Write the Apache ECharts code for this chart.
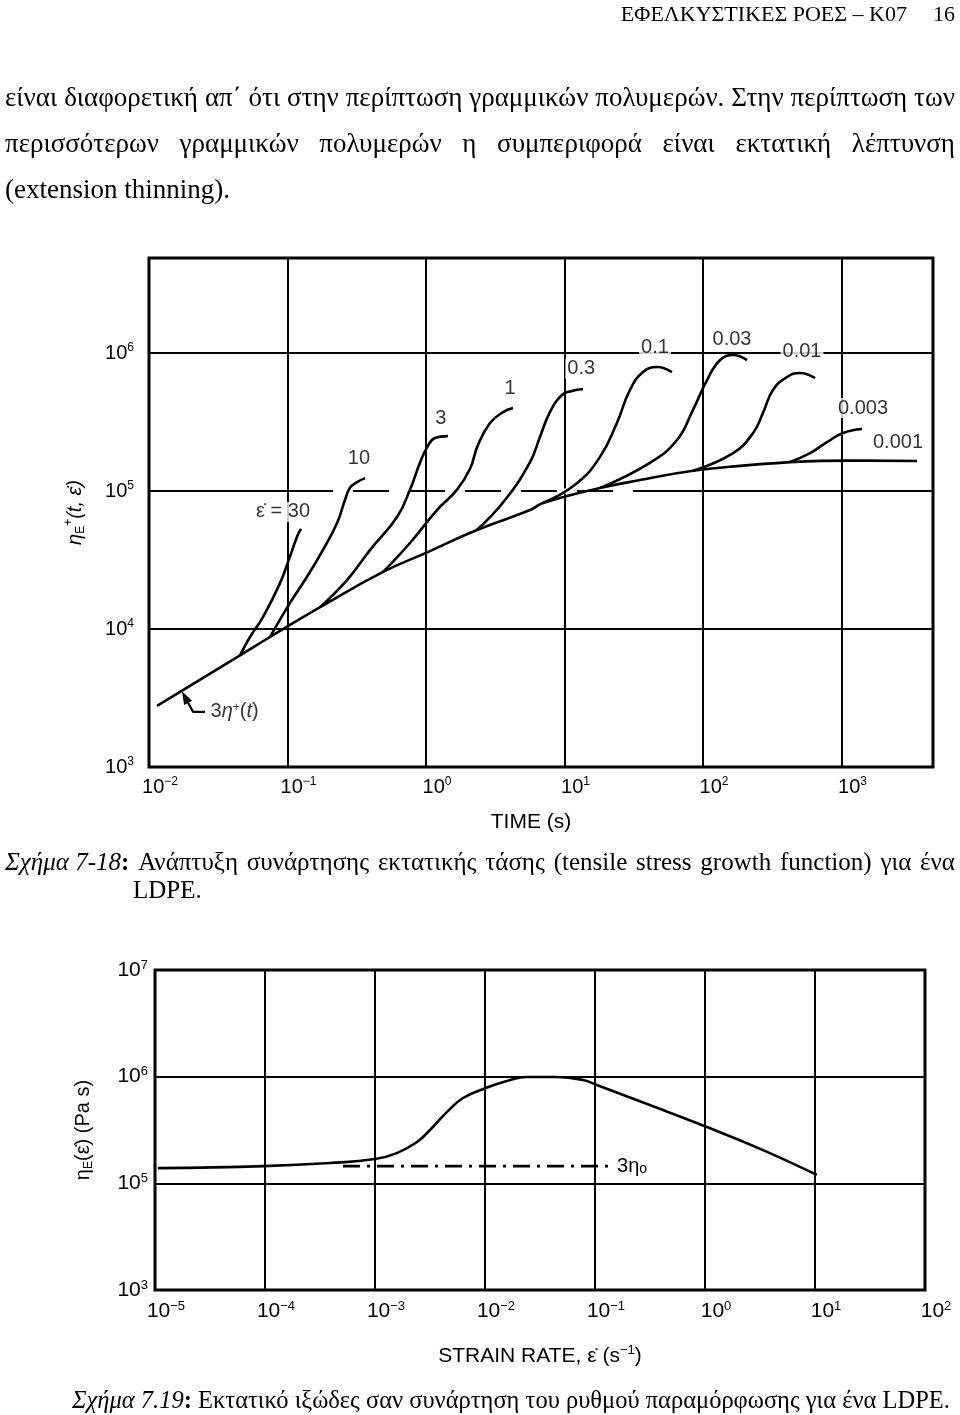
<!DOCTYPE html>
<html><head><meta charset="utf-8">
<script src="https://cdn.jsdelivr.net/npm/echarts@6/dist/echarts.min.js"></script>
<style>
html,body{margin:0;padding:0;background:#fff;}
body{width:960px;height:1415px;position:relative;overflow:hidden;font-family:"Liberation Serif","Times New Roman",serif;color:#000;}
#chart{position:absolute;left:0;top:0;width:960px;height:1415px;}
.ln{position:absolute;white-space:nowrap;display:flex;justify-content:space-between;}
.ln span{white-space:nowrap;}
.t{position:absolute;white-space:nowrap;}
</style></head><body>
<div id="chart"></div>
<div class="t" style="right:5px;top:1px;font-size:22px;line-height:26px;">ΕΦΕΛΚΥΣΤΙΚΕΣ ΡΟΕΣ – Κ07<span style="display:inline-block;width:26px"></span>16</div>
<div class="ln body" style="left:5px;width:950px;top:81px;font-size:27px;line-height:32px;" data-text="είναι διαφορετική απ΄ ότι στην περίπτωση γραμμικών πολυμερών. Στην περίπτωση των"></div>
<div class="ln body" style="left:5px;width:950px;top:127px;font-size:27px;line-height:32px;" data-text="περισσότερων γραμμικών πολυμερών η συμπεριφορά είναι εκτατική λέπτυνση"></div>
<div class="t" style="left:5px;top:173px;font-size:27px;line-height:32px;">(extension thinning).</div>
<div class="ln body" id="cap1" style="left:5px;width:950px;top:847px;font-size:25px;line-height:30px;" data-text="Ανάπτυξη συνάρτησης εκτατικής τάσης (tensile stress growth function) για ένα"></div>
<div class="t" style="left:133px;top:875px;font-size:25px;line-height:30px;">LDPE.</div>
<div class="ln" id="cap2" style="left:72px;width:878px;top:1385px;font-size:24.5px;line-height:30px;"></div>
<script>
// ---------- Figure 7-18 : tensile stress growth function (t [s], eta [Pa s]) ----------
const envelope3EtaPlus = [[0.01143,2770],[0.0454,6440],[0.0748,8750],[0.172,14400],[0.490,25900],[1.03,36100],[2.33,52100],[5.64,72800],[7.00,81800],[18.0,105000],[35.1,120000],[84.7,140000],[185,152000],[425,162000]];
const rate30   = [[0.0454,6440],[0.0536,8750],[0.0665,12200],[0.0883,21500],[0.104,33300],[0.117,46400],[0.125,53100]];
const rate10   = [[0.0748,8750],[0.104,15400],[0.138,23800],[0.180,37300],[0.228,58600],[0.260,86100],[0.282,105000],[0.318,116000],[0.363,124000]];
const rate3    = [[0.172,14400],[0.269,22600],[0.394,37300],[0.618,64800],[0.766,102000],[0.905,160000],[1.02,208000],[1.16,242000],[1.44,250000]];
const rate1    = [[0.490,25900],[0.766,42000],[1.20,72800],[1.67,102000],[2.08,145000],[2.37,215000],[2.90,311000],[3.60,373000],[4.25,399000]];
const rate03   = [[2.33,52100],[3.72,86100],[5.64,162000],[6.65,246000],[7.85,373000],[9.59,496000],[11.3,530000],[13.6,548000]];
const rate01   = [[7.00,81800],[12.3,114000],[18.0,176000],[23.9,311000],[29.7,540000],[36.9,728000],[46.6,792000],[59.7,728000]];
const rate003  = [[18.0,105000],[41.4,160000],[64.9,234000],[84.7,387000],[107,637000],[133,889000],[165,968000],[208,889000]];
const rate001  = [[84.7,140000],[165,188000],[230,263000],[271,367000],[320,540000],[404,670000],[501,716000],[644,659000]];
const rate0003 = [[425,162000],[593,188000],[786,226000],[1025,263000],[1405,281000]];
const rate0001 = [[425,162000],[1150,166000],[3510,165000]];
const rateCurves = [rate30, rate10, rate3, rate1, rate03, rate01, rate003, rate001, rate0003, rate0001];
const rateLabelText = ['ε̇ = 30','10','3','1','0.3','0.1','0.03','0.01','0.003','0.001'];
const rateLabelAt   = [[0.0929,70500],[0.328,171000],[1.28,338000],[4.04,557000],[13.2,766000],[45.0,1100000],[162,1260000],[519,1020000],[1430,399000],[2560,226000]];
const arrow3EtaPlus = [[0.0182,3210],[0.0208,2510],[0.0254,2510]];
const dashedPartOf1e5Line = [[0.213,100000],[33.3,100000]];
const timeAxisRange = [0.01, 4580];
const eta1AxisRange = [1000, 4.88e6];

// ---------- Figure 7.19 : extensional viscosity vs strain rate ----------
const extViscosity = [[1.06e-5,139000],[9.8e-5,145000],[3.90e-4,155000],[1.0e-3,169000],[1.58e-3,192000],[2.41e-3,244000],[3.16e-3,316000],[4.52e-3,467000],[6.31e-3,631000],[0.0102,783000],[0.0158,911000],[0.0241,993000],[0.0452,993000],[0.0778,931000],[0.104,836000],[0.415,487000],[1.04,337000],[3.37,205000],[10.4,120000]];
const threeEta0 = [[5.12e-4,145000],[0.143,145000]];
const rateAxisRange = [1e-5, 100];
const eta2AxisRange = [1e4, 1e7];
const eta2TickExponents = ['3','5','6','7']; // exponents printed at 1e4,1e5,1e6,1e7 (as in the figure)

// ---------- page text ----------
document.querySelectorAll('.ln.body').forEach(el => {
  const words = el.getAttribute('data-text').split(' ');
  let html = '';
  if (el.id === 'cap1') html += '<span><i>Σχήμα 7-18</i><b>:</b></span>';
  words.forEach(w => html += '<span>' + w + '</span>');
  el.innerHTML = html;
});
(function () {
  const el = document.getElementById('cap2');
  let html = '<span><i>Σχήμα 7.19</i><b>:</b></span>';
  'Εκτατικό ιξώδες σαν συνάρτηση του ρυθμού παραμόρφωσης για ένα LDPE.'.split(' ').forEach(w => html += '<span>' + w + '</span>');
  el.innerHTML = html;
})();

const FONT = '"Liberation Sans", Arial, Helvetica, sans-serif';
function supRich(fs, shl) {
  return {
    b: {fontSize: fs, lineHeight: fs + 2, fontFamily: FONT, color: '#000'},
    s: {fontSize: Math.round(fs * 0.62), lineHeight: shl, verticalAlign: 'top', fontFamily: FONT, color: '#000'}
  };
}
function powLabel(v, expMap, base) {
  const l = Math.log10(v), e = Math.round(l);
  if (Math.abs(l - e) > 1e-6) return '';
  let s = expMap ? expMap[e - base] : String(e);
  s = String(s).replace('-', '−');
  return '{b|10}{s|' + s + '}';
}
const black = '#000';
const gridLine = {show: true, lineStyle: {color: black, width: 2}};
const SMOOTH = 0.45;

const series = [];
// white gaps that turn the middle of the 10^5 grid line into a dashed line
series.push({type: 'line', xAxisIndex: 0, yAxisIndex: 0, data: dashedPartOf1e5Line, showSymbol: false, symbol: 'none', silent: true,
  lineStyle: {color: '#fff', width: 5, type: [20, 36], dashOffset: 0}, z: 1});
series.push({type: 'line', xAxisIndex: 0, yAxisIndex: 0, data: envelope3EtaPlus, smooth: SMOOTH, showSymbol: false, symbol: 'none', lineStyle: {color: black, width: 2.6}, z: 3});
rateCurves.forEach(c => series.push({type: 'line', xAxisIndex: 0, yAxisIndex: 0, data: c, smooth: SMOOTH, showSymbol: false, symbol: 'none', lineStyle: {color: black, width: 2.6}, z: 3}));
series.push({type: 'line', xAxisIndex: 0, yAxisIndex: 0, smooth: false, symbol: 'circle', symbolSize: 0, showSymbol: true,
  lineStyle: {color: black, width: 2.2}, itemStyle: {color: black},
  data: arrow3EtaPlus.map((p, i) => i === 0 ? {value: p, symbol: 'triangle', symbolSize: [9, 13], symbolRotate: 28} : {value: p}), z: 4});
const annData = rateLabelText.map((t, i) => ({value: rateLabelAt[i], name: t}));
annData.push({value: arrow3EtaPlus[2], name: '3{i|η}{sup|+}({i|t})', label: {position: 'right', distance: 3, backgroundColor: 'transparent'}});
series.push({type: 'scatter', xAxisIndex: 0, yAxisIndex: 0, symbolSize: 1, itemStyle: {color: 'rgba(0,0,0,0)'},
  label: {show: true, position: 'inside', formatter: '{b}', color: black, fontFamily: FONT, fontSize: 20, backgroundColor: '#fff', padding: [0, 2],
    rich: {sup: {fontSize: 12, lineHeight: 8, verticalAlign: 'top', fontFamily: FONT, color: black},
           i: {fontSize: 20, fontStyle: 'italic', fontFamily: FONT, color: black}}},
  data: annData, z: 6});
series.push({type: 'line', xAxisIndex: 1, yAxisIndex: 1, data: extViscosity, smooth: SMOOTH, showSymbol: false, symbol: 'none', lineStyle: {color: black, width: 2.6}, z: 3});
series.push({type: 'line', xAxisIndex: 1, yAxisIndex: 1, data: threeEta0, showSymbol: false, symbol: 'none', lineStyle: {color: black, width: 2.6, type: [17, 7, 3, 7]}, z: 3,
  endLabel: {show: true, formatter: '3η{o|o}', distance: 5, color: black, fontFamily: FONT, fontSize: 20,
    rich: {o: {fontSize: 14, lineHeight: 6, verticalAlign: 'bottom', fontFamily: FONT, color: black}}}});

const option = {
  animation: false,
  textStyle: {fontFamily: FONT, color: black},
  grid: [
    {left: 149, top: 258, width: 784, height: 509, show: true, borderColor: black, borderWidth: 3, backgroundColor: 'transparent'},
    {left: 155, top: 970, width: 770, height: 320, show: true, borderColor: black, borderWidth: 3, backgroundColor: 'transparent'}
  ],
  xAxis: [
    {type: 'log', logBase: 10, gridIndex: 0, min: timeAxisRange[0], max: timeAxisRange[1],
      axisLine: {show: false}, axisTick: {show: false}, splitLine: gridLine,
      axisLabel: {formatter: v => powLabel(v), rich: supRich(20, 8), margin: 9, padding: [0, 0, 0, 22], showMaxLabel: false},
      name: 'TIME (s)', nameLocation: 'middle', nameGap: 45, nameTextStyle: {fontSize: 21, color: black, fontFamily: FONT, padding: [0, 20, 0, 0]}},
    {type: 'log', logBase: 10, gridIndex: 1, min: rateAxisRange[0], max: rateAxisRange[1],
      axisLine: {show: false}, axisTick: {show: false}, splitLine: gridLine,
      axisLabel: {formatter: v => powLabel(v), rich: supRich(21, 6), margin: 10, padding: [0, 0, 0, 22]},
      name: '{a|STRAIN RATE, ε̇ (s}{s|−1}{a|)}', nameLocation: 'middle', nameGap: 54,
      nameTextStyle: {fontSize: 21, color: black, fontFamily: FONT, rich: {a: {fontSize: 21, fontFamily: FONT, color: black, lineHeight: 24}, s: {fontSize: 13, lineHeight: 8, verticalAlign: 'top', fontFamily: FONT, color: black}}}}
  ],
  yAxis: [
    {type: 'log', logBase: 10, gridIndex: 0, min: eta1AxisRange[0], max: eta1AxisRange[1],
      axisLine: {show: false}, axisTick: {show: false}, splitLine: gridLine,
      axisLabel: {formatter: v => powLabel(v), rich: supRich(20, 8), margin: 15},
      name: '{a|η}{sub|E}{sup|+}{a|(t, ε̇)}', nameLocation: 'middle', nameRotate: 90, nameGap: 62,
      nameTextStyle: {color: black, rich: {a: {fontSize: 20, fontFamily: FONT, fontStyle: 'italic', color: black, lineHeight: 24}, sub: {fontSize: 12, lineHeight: 8, verticalAlign: 'bottom', fontFamily: FONT, color: black}, sup: {fontSize: 12, lineHeight: 8, verticalAlign: 'top', fontFamily: FONT, color: black}}}},
    {type: 'log', logBase: 10, gridIndex: 1, min: eta2AxisRange[0], max: eta2AxisRange[1],
      axisLine: {show: false}, axisTick: {show: false}, splitLine: gridLine,
      axisLabel: {formatter: v => powLabel(v, eta2TickExponents, 4), rich: supRich(21, 6), margin: 7},
      name: '{a|η}{sub|E}{a|(ε̇) (Pa s)}', nameLocation: 'middle', nameRotate: 90, nameGap: 60,
      nameTextStyle: {color: black, rich: {a: {fontSize: 20, fontFamily: FONT, color: black, lineHeight: 24}, sub: {fontSize: 12, lineHeight: 8, verticalAlign: 'bottom', fontFamily: FONT, color: black}}}}
  ],
  series: series
};
const chart = echarts.init(document.getElementById('chart'));
chart.setOption(option);
</script>
</body></html>
